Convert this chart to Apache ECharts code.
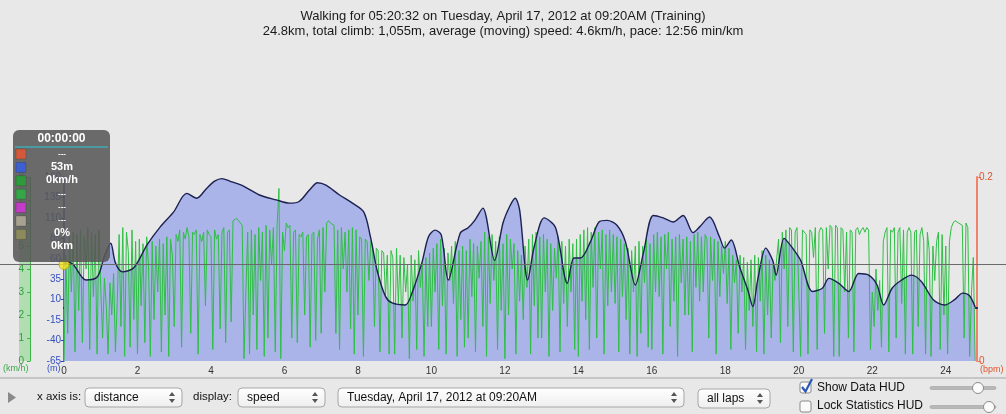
<!DOCTYPE html>
<html><head><meta charset="utf-8">
<script src="https://cdn.jsdelivr.net/npm/echarts@6/dist/echarts.min.js"></script>
<style>html,body{margin:0;padding:0;background:#e8e8e8;overflow:hidden}#c{width:1006px;height:414px}</style>
</head><body><div id="c"></div>
<script>
const titleLine1 = 'Walking for 05:20:32 on Tuesday, April 17, 2012 at 09:20AM (Training)';
const titleLine2 = '24.8km, total climb: 1,055m, average (moving) speed: 4.6km/h, pace: 12:56 min/km';

const distTicks = [0,1,2,3,4,5,6,7,8,9,10,11,12,13,14,15,16,17,18,19,20,21,22,23,24];
const distLabels = [0,2,4,6,8,10,12,14,16,18,20,22,24];
const elevTicks = [-65,-40,-15,10,35,60,85,110,135,160];
const speedTicks = [0,1,2,3,4,5,6,7,8];
const hrTicks = [0,0.2];

// elevation profile (km, m)
const elevKm = [0,0.1,0.25,0.6,0.91,1.09,1.27,1.4,1.59,1.9,2.26,2.62,2.98,3.34,3.61,3.88,4.1,4.3,4.51,4.83,5.32,5.78,6.14,6.4,6.68,6.9,7.13,7.5,7.85,8.16,8.34,8.52,8.75,8.93,9.29,9.47,9.74,9.92,10.1,10.27,10.46,10.78,11.0,11.18,11.4,11.72,11.95,12.13,12.28,12.4,12.62,12.8,13.07,13.38,13.7,13.88,14.06,14.33,14.56,14.78,15.05,15.28,15.55,15.77,16.04,16.31,16.58,16.85,17.12,17.3,17.57,17.84,17.98,18.16,18.39,18.61,18.75,18.88,19.1,19.29,19.38,19.6,19.83,20.05,20.37,20.64,20.82,21.09,21.36,21.63,21.9,22.13,22.31,22.54,22.8,23.07,23.34,23.66,23.97,24.24,24.46,24.64,24.8];
const elevM = [52,56,53,34,38,62,79,55,44,49,77,99,117,140,134,146,155,158,155,150,138,132,128,130,144,153,150,138,128,117,87,46,14,6,3.5,18,55,87,95,89,34,91,98,107,122,58,104,124,134,120,34,75,110,98,30,61,61,81,105,107,101,81,28,67,113,110,105,113,92,99,111,87,73,83,50,22,1.4,34,73,58,40,85,73,58,20,24,36,30,20,42,40,28,3.5,24,34,40,32,10,3.5,10,18,15,1];

// speed (km/h), one reading every 0.05 km
const speedStepKm = 0.05;
const speedKmh = [
0.0,4.6,1.2,5.4,3.0,5.6,0.4,5.5,2.2,5.7,0.8,5.4,4.0,5.8,0.5,5.6,2.8,5.5,0.3,5.7,
3.2,1.0,3.6,2.4,0.3,3.4,2.0,3.8,0.4,2.6,5.5,1.5,5.8,0.2,5.6,4.8,0.6,5.7,1.8,5.2,
0.3,5.3,2.4,5.1,0.8,5.4,4.2,0.2,5.2,1.8,5.0,3.0,5.3,0.4,5.1,2.0,5.4,0.2,5.3,4.6,
1.5,5.5,5.2,5.7,0.6,5.6,5.3,5.8,5.4,1.2,5.6,5.5,5.7,0.3,5.5,5.2,5.6,2.4,5.7,5.5,
5.4,0.5,5.7,5.3,5.5,1.4,5.6,5.8,0.8,5.6,5.7,1.7,6.1,6.1,6.2,6.1,6.1,5.9,0.1,3.0,
5.6,0.3,5.7,2.0,5.5,0.5,5.8,3.5,5.6,0.2,5.9,1.0,5.7,4.2,5.8,0.4,5.9,7.5,0.1,5.6,
4.8,6.0,5.8,5.9,1.0,5.6,5.7,0.8,5.5,5.4,5.6,2.0,5.4,5.5,0.6,5.5,5.6,0.9,5.3,5.7,
1.2,5.8,3.0,6.0,6.1,6.0,6.0,5.9,1.2,5.7,0.5,5.8,4.0,5.6,3.0,5.7,1.4,5.8,0.3,5.7,
2.0,5.4,5.3,0.2,5.3,5.2,3.5,5.2,5.0,1.5,4.9,4.8,0.4,4.8,4.7,2.8,4.6,0.3,4.8,4.5,
0.3,4.9,2.5,4.6,1.0,4.5,3.0,4.2,0.1,4.6,2.6,4.4,0.5,4.8,3.2,4.3,0.2,4.5,1.5,4.7,
1.5,4.9,3.0,5.1,0.5,5.3,2.4,4.9,0.3,4.7,3.5,5.0,2.5,5.2,0.2,4.8,1.8,5.0,0.6,4.8,
1.0,5.3,2.8,5.1,0.4,5.0,3.6,5.2,1.5,5.6,0.2,5.4,2.5,5.5,3.5,5.2,0.5,5.4,2.2,5.1,
0.1,5.5,2.0,5.3,4.0,5.1,0.3,4.8,2.6,4.6,1.8,5.0,3.2,5.3,0.3,5.5,2.4,5.6,1.0,5.4,
1.0,5.5,3.0,5.3,0.2,5.1,2.2,4.9,3.6,5.4,0.4,5.2,2.5,5.0,1.5,5.3,3.0,5.1,0.5,5.3,
0.2,5.5,2.6,5.7,1.8,5.8,0.5,5.6,3.2,5.8,1.0,5.6,4.0,5.7,0.3,5.5,2.4,5.7,3.0,5.5,
2.5,5.4,0.4,5.3,2.8,5.1,1.8,4.9,0.3,4.8,3.0,5.0,0.2,5.2,1.2,5.0,3.4,5.3,0.6,5.1,
0.5,5.5,3.0,5.6,2.8,5.4,0.3,5.5,4.0,5.6,1.5,5.3,2.6,5.4,0.2,5.5,3.4,5.3,2.0,5.4,
2.0,5.2,0.4,5.5,3.2,5.6,2.6,5.4,3.0,5.5,5.3,1.0,5.4,3.5,5.3,0.3,5.2,2.8,5.0,3.8,
5.2,2.5,4.9,0.5,4.6,3.4,4.4,1.2,4.6,3.0,4.5,0.5,4.3,2.2,4.4,1.5,4.6,0.4,4.5,2.6,
4.8,0.3,4.6,2.0,4.4,1.0,4.2,3.5,4.5,5.3,0.8,5.6,4.0,5.7,1.5,5.8,5.7,0.4,5.6,5.8,
5.8,0.2,5.7,5.6,5.5,0.3,5.7,5.6,4.5,5.8,0.5,5.6,5.8,5.7,1.2,5.8,4.0,5.9,5.8,0.2,
5.9,5.8,0.2,5.8,5.7,3.0,5.6,1.0,5.7,5.6,0.4,5.7,5.8,5.5,5.7,5.8,5.6,5.8,5.7,0.5,
3.0,1.5,4.0,2.2,3.5,0.6,5.2,5.6,5.8,0.4,5.7,5.6,5.8,1.0,5.6,5.8,2.5,5.7,0.3,5.6,
5.8,5.6,0.3,5.6,5.7,1.5,5.5,5.8,5.2,0.3,5.6,4.8,0.2,5.0,3.5,5.2,5.6,0.5,5.5,2.0,
5.0,0.3,5.2,5.8,6.0,6.1,6.1,6.0,6.0,5.9,1.0,6.0,5.8,0.2,3.0,4.5,0.0
];

const cursorKm = 0;
const cursorElev = 53;
const hudTime = '00:00:00';
const hudRows = ['---','53m','0km/h','---','---','---','0%','0km'];
const hudSwatches = ['#d2593b','#3d5fcf','#2f9a3d','#36a547','#c23dc7','#a7a290','#8d8b5c'];

const xAxisChoice = 'distance';
const displayChoice = 'speed';
const activityChoice = 'Tuesday, April 17, 2012 at 09:20AM';
const lapsChoice = 'all laps';

const FONT = '"Liberation Sans", Arial, sans-serif';
const chart = echarts.init(document.getElementById('c'), null, {renderer: 'canvas'});

const elevData = elevKm.map((k, i) => [k, elevM[i]]);
const speedData = speedKmh.map((v, i) => [+(i * speedStepKm).toFixed(2), v]);

chart.setOption({
  backgroundColor: '#e8e8e8',
  animation: false,
  grid: {left: 64, right: 29, top: 177, bottom: 53, containLabel: false},
  xAxis: {
    type: 'value', min: 0, max: 24.85,
    axisLine: {lineStyle: {color: '#1c2150', width: 2}},
    axisTick: {inside: true, length: 4, customValues: distTicks, lineStyle: {color: '#1c2150'}},
    axisLabel: {customValues: distLabels, color: '#333', fontSize: 10, fontFamily: FONT, margin: 5},
    splitLine: {show: false}
  },
  yAxis: [
    {
      type: 'value', position: 'left', min: -65, max: 160,
      axisLine: {show: true, lineStyle: {color: '#2a45b5', width: 1.5}},
      axisTick: {show: true, length: 3, customValues: elevTicks, lineStyle: {color: '#2a45b5'}},
      axisLabel: {customValues: elevTicks, color: '#3550c0', fontSize: 10, fontFamily: FONT, margin: 3},
      splitLine: {show: false}
    },
    {
      type: 'value', position: 'left', offset: 34, min: 0, max: 8,
      axisLine: {show: true, lineStyle: {color: '#3cb446', width: 1}},
      axisTick: {show: true, length: 3, customValues: speedTicks, lineStyle: {color: '#3cb446'}},
      axisLabel: {customValues: speedTicks, color: '#2e9e3c', fontSize: 10, fontFamily: FONT, margin: 6},
      splitLine: {show: false}
    },
    {
      type: 'value', position: 'right', min: 0, max: 0.2,
      axisLine: {show: true, lineStyle: {color: '#f08468', width: 2}},
      axisTick: {show: true, length: 4, customValues: hrTicks, lineStyle: {color: '#f08468'}},
      axisLabel: {customValues: hrTicks, color: '#e0542e', fontSize: 10, fontFamily: FONT, margin: 2},
      splitLine: {show: false}
    }
  ],
  series: [
    {
      name: 'elevation-area', type: 'line', yAxisIndex: 0, data: elevData, smooth: 0.3,
      showSymbol: false, lineStyle: {width: 0}, areaStyle: {color: '#aab4e9', opacity: 1, origin: 'start'}, z: 1
    },
    {
      name: 'speed', type: 'line', yAxisIndex: 1, data: speedData, showSymbol: false,
      lineStyle: {color: '#2fbf45', width: 1}, z: 2
    },
    {
      name: 'elevation', type: 'line', yAxisIndex: 0, data: elevData, smooth: 0.3,
      showSymbol: false, lineStyle: {color: '#1c2150', width: 1.4}, z: 3
    },
    {
      name: 'cursor', type: 'scatter', yAxisIndex: 0, data: [[cursorKm, cursorElev]],
      symbolSize: 10, itemStyle: {color: '#f3e31c', borderColor: '#b8a400', borderWidth: 1}, z: 20
    }
  ]
});

const cy = chart.convertToPixel({yAxisIndex: 0}, cursorElev);

function selectBox(x, y, w, h, label) {
  return [
    {type: 'rect', shape: {x: x, y: y, width: w, height: h, r: 4},
     style: {fill: new echarts.graphic.LinearGradient(0,0,0,1,[{offset:0,color:'#ffffff'},{offset:1,color:'#eeeeee'}]), stroke: '#a6a6a6', lineWidth: 1}, z: 50},
    {type: 'text', x: x + 9, y: y + h / 2, style: {text: label, fill: '#111', font: '12px ' + FONT, verticalAlign: 'middle'}, z: 51},
    {type: 'polygon', shape: {points: [[x + w - 13, y + h / 2 - 1.5], [x + w - 7, y + h / 2 - 1.5], [x + w - 10, y + h / 2 - 5.5]]}, style: {fill: '#555'}, z: 51},
    {type: 'polygon', shape: {points: [[x + w - 13, y + h / 2 + 1.5], [x + w - 7, y + h / 2 + 1.5], [x + w - 10, y + h / 2 + 5.5]]}, style: {fill: '#555'}, z: 51}
  ];
}

const g = [];
g.push({type: 'text', x: 503, y: 16, style: {text: titleLine1, fill: '#1a1a1a', font: '13px ' + FONT, align: 'center', verticalAlign: 'middle'}});
g.push({type: 'text', x: 503, y: 31, style: {text: titleLine2, fill: '#1a1a1a', font: '13px ' + FONT, align: 'center', verticalAlign: 'middle'}});
g.push({type: 'rect', shape: {x: 19, y: 177, width: 11, height: 184}, style: {fill: 'rgba(110,210,110,0.45)'}, z: 0});
g.push({type: 'text', x: 3, y: 369, style: {text: '(km/h)', fill: '#3aa84a', font: '9px ' + FONT, verticalAlign: 'middle'}});
g.push({type: 'text', x: 47, y: 369, style: {text: '(m)', fill: '#3550c0', font: '9px ' + FONT, verticalAlign: 'middle'}});
g.push({type: 'text', x: 980, y: 370, style: {text: '(bpm)', fill: '#e0542e', font: '9px ' + FONT, verticalAlign: 'middle'}});
g.push({type: 'line', shape: {x1: 0, y1: cy, x2: 1006, y2: cy}, style: {stroke: '#6a6a6a', lineWidth: 1}, z: 15});
g.push({type: 'rect', shape: {x: 13, y: 130, width: 97, height: 132, r: 6}, style: {fill: 'rgba(88,88,88,0.88)'}, z: 100});
g.push({type: 'text', x: 61.5, y: 139, style: {text: hudTime, fill: '#ffffff', font: 'bold 12px ' + FONT, align: 'center', verticalAlign: 'middle'}, z: 101});
g.push({type: 'rect', shape: {x: 15, y: 146, width: 93, height: 2}, style: {fill: '#4a9aa2'}, z: 101});
hudSwatches.forEach((c, i) => {
  g.push({type: 'rect', shape: {x: 16, y: 149 + i * 13.4, width: 10, height: 10}, style: {fill: c, stroke: 'rgba(0,0,0,0.3)', lineWidth: 0.5}, z: 101});
});
hudRows.forEach((t, i) => {
  g.push({type: 'text', x: 62, y: 154 + i * 13.2, style: {text: t, fill: '#ffffff', font: (t === '---' ? 'bold 8px ' : 'bold 11px ') + FONT, align: 'center', verticalAlign: 'middle'}, z: 101});
});
g.push({type: 'line', shape: {x1: 0, y1: 378, x2: 1006, y2: 378}, style: {stroke: '#a4a4a4', lineWidth: 1}, z: 40});
g.push({type: 'polygon', shape: {points: [[8, 392], [16, 397.5], [8, 403]]}, style: {fill: '#8a8a8a'}, z: 50});
g.push({type: 'text', x: 37, y: 397, style: {text: 'x axis is:', fill: '#111', font: '11.5px ' + FONT, verticalAlign: 'middle'}, z: 50});
g.push(...selectBox(85, 388, 97, 19, xAxisChoice));
g.push({type: 'text', x: 193, y: 397, style: {text: 'display:', fill: '#111', font: '11.5px ' + FONT, verticalAlign: 'middle'}, z: 50});
g.push(...selectBox(238, 388, 87, 19, displayChoice));
g.push(...selectBox(338, 388, 346, 19, activityChoice));
g.push(...selectBox(698, 389, 72, 19, lapsChoice));
g.push({type: 'rect', shape: {x: 800, y: 382, width: 11, height: 11, r: 2}, style: {fill: '#fafafa', stroke: '#8a8a8a', lineWidth: 1}, z: 50});
g.push({type: 'polyline', shape: {points: [[802, 387], [805.5, 391.5], [812, 379]]}, style: {stroke: '#2a56b8', lineWidth: 2.2, fill: null}, z: 51});
g.push({type: 'text', x: 817, y: 388, style: {text: 'Show Data HUD', fill: '#111', font: '12px ' + FONT, verticalAlign: 'middle'}, z: 50});
g.push({type: 'rect', shape: {x: 800, y: 401, width: 11, height: 11, r: 2}, style: {fill: '#fafafa', stroke: '#8a8a8a', lineWidth: 1}, z: 50});
g.push({type: 'text', x: 817, y: 406, style: {text: 'Lock Statistics HUD', fill: '#111', font: '12px ' + FONT, verticalAlign: 'middle'}, z: 50});
[[388, 978], [407, 989]].forEach(([y, kx]) => {
  g.push({type: 'rect', shape: {x: 930, y: y - 1.5, width: 66, height: 3, r: 1.5}, style: {fill: '#b8b8b8', stroke: '#999', lineWidth: 0.5}, z: 50});
  g.push({type: 'circle', shape: {cx: kx, cy: y, r: 5.5}, style: {fill: '#fcfcfc', stroke: '#8c8c8c', lineWidth: 1}, z: 51});
});

chart.setOption({graphic: g});
</script></body></html>
